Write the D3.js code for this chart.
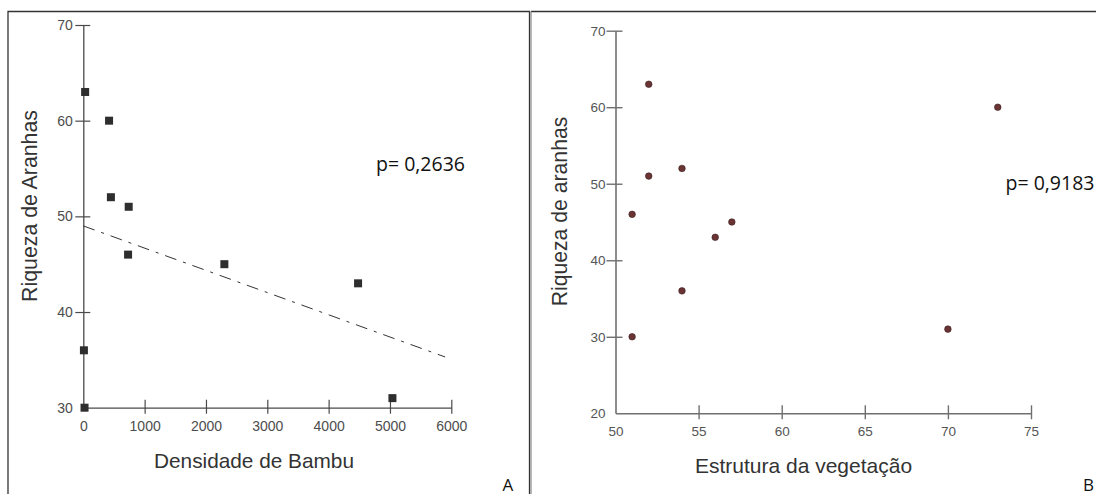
<!DOCTYPE html>
<html>
<head>
<meta charset="utf-8">
<script src="https://cdn.jsdelivr.net/npm/d3@7"></script>
<style>
  html, body { margin: 0; padding: 0; background: #fff; }
  svg { display: block; }
</style>
</head>
<body>
<svg id="chart" width="1096" height="494"></svg>
<script>
// ---------- Data ----------
// Panel A: Densidade de Bambu vs Riqueza de Aranhas
const densidadeBambu = [30, 420, 450, 740, 730, 2300, 10, 20, 4480, 5040];
const riquezaA       = [63, 60, 52, 51, 46, 45, 36, 30, 43, 31];
// dashed trend line end points (x, y values)
const trendX = [0, 5900];
const trendY = [49.0, 35.3];
const xTicksA = [0, 1000, 2000, 3000, 4000, 5000, 6000];
const yTicksA = [30, 40, 50, 60, 70];
const pTextA = "p= 0,2636";

// Panel B: Estrutura da vegetação vs Riqueza de aranhas
const estruturaVeg = [52, 51, 52, 54, 56, 57, 54, 51, 73, 70];
const riquezaB     = [63, 46, 51, 52, 43, 45, 36, 30, 60, 31];
const xTicksB = [50, 55, 60, 65, 70, 75];
const yTicksB = [20, 30, 40, 50, 60, 70];
const pTextB = "p= 0,9183";

// ---------- Drawing ----------
const svg = d3.select("#chart");
const sansFont = "'Liberation Sans', Arial, sans-serif";
const calFont = "'Open Sans', 'Liberation Sans', sans-serif";

// panel borders
svg.append("path").attr("d", "M8,494V11.5H529.5V494")
  .attr("fill", "none").attr("stroke", "#333").attr("stroke-width", 1.3);
svg.append("path").attr("d", "M531,11.5H1096")
  .attr("fill", "none").attr("stroke", "#333").attr("stroke-width", 1.3);
svg.append("path").attr("d", "M531,11.5V494")
  .attr("fill", "none").attr("stroke", "#888").attr("stroke-width", 1.2);

function drawAxes(g, x, y, xTicks, yTicks, opts) {
  const xAxis = d3.axisBottom(x).tickValues(xTicks).tickFormat(d3.format("d"))
    .tickSizeInner(6).tickSizeOuter(0).tickPadding(7);
  const yAxis = d3.axisLeft(y).tickValues(yTicks).tickFormat(d3.format("d"))
    .tickSizeInner(opts.yTickLeft).tickSizeOuter(0).tickPadding(opts.yPad);

  const gx = g.append("g").attr("transform", `translate(0,${y.range()[0]})`).call(xAxis);
  const gy = g.append("g").attr("transform", `translate(${x.range()[0]},0)`).call(yAxis);

  [gx, gy].forEach(a => {
    a.select(".domain").attr("stroke", opts.axisColor).attr("stroke-width", opts.axisWidth);
    a.selectAll(".tick line").attr("stroke", opts.axisColor).attr("stroke-width", opts.tickWidth);
    a.selectAll(".tick text").attr("fill", opts.labelColor)
      .style("font-family", sansFont).style("font-size", opts.labelSize + "px");
  });
  // ticks cross the axis
  gx.selectAll(".tick line").attr("y1", -8);
  gy.selectAll(".tick line").attr("x1", 7);
  // no tick mark at the origin
  gx.selectAll(".tick").filter(d => d === xTicks[0]).select("line").remove();
  gy.selectAll(".tick").filter(d => d === yTicks[0]).select("line").remove();
}

// ----- Panel A -----
const xA = d3.scaleLinear().domain([0, 6000]).range([83.3, 451.3]);
const yA = d3.scaleLinear().domain([30, 70]).range([407.7, 25]);
const gA = svg.append("g");
drawAxes(gA, xA, yA, xTicksA, yTicksA, {
  axisColor: "#4a4a4a", axisWidth: 1.3, tickWidth: 1.2, labelColor: "#4d4d4d",
  labelSize: 14, yTickLeft: 8, yPad: 2.5
});

// trend line
gA.append("path")
  .datum(trendX.map((v, i) => [v, trendY[i]]))
  .attr("d", d3.line().x(d => xA(d[0])).y(d => yA(d[1])))
  .attr("fill", "none").attr("stroke", "#333").attr("stroke-width", 1)
  .attr("stroke-dasharray", "12,7,3,7");

// square markers
const sq = 8;
gA.selectAll("rect.pt").data(densidadeBambu.map((v, i) => [v, riquezaA[i]]))
  .join("rect").attr("class", "pt")
  .attr("x", d => xA(d[0]) - sq / 2).attr("y", d => yA(d[1]) - sq / 2)
  .attr("width", sq).attr("height", sq).attr("fill", "#2e2e2e");

gA.append("text").text("Densidade de Bambu")
  .attr("x", 254).attr("y", 468.3).attr("text-anchor", "middle")
  .style("font-family", sansFont).style("font-size", "20.8px").attr("fill", "#333");
gA.append("text").text("Riqueza de Aranhas")
  .attr("transform", "translate(36.5,206) rotate(-90)").attr("text-anchor", "middle")
  .style("font-family", sansFont).style("font-size", "21.3px").attr("fill", "#333");
gA.append("text").text(pTextA)
  .attr("x", 376).attr("y", 170.7)
  .style("font-family", calFont).style("font-size", "19.5px").attr("fill", "#111");
gA.append("text").text("A")
  .attr("x", 502.5).attr("y", 490.5)
  .style("font-family", calFont).style("font-size", "17px").attr("fill", "#111");

// ----- Panel B -----
const xB = d3.scaleLinear().domain([50, 75]).range([615.5, 1031]);
const yB = d3.scaleLinear().domain([20, 70]).range([413.3, 30.7]);
const gB = svg.append("g");
drawAxes(gB, xB, yB, xTicksB, yTicksB, {
  axisColor: "#707070", axisWidth: 1.6, tickWidth: 1.4, labelColor: "#555",
  labelSize: 13.5, yTickLeft: 9, yPad: 1
});

gB.selectAll("path.pt").data(estruturaVeg.map((v, i) => [v, riquezaB[i]]))
  .join("path").attr("class", "pt")
  .attr("transform", d => `translate(${xB(d[0])},${yB(d[1])})`)
  .attr("d", d3.symbol().type(d3.symbolCircle).size(34))
  .attr("fill", "#6a3434").attr("stroke", "#3a1e1e").attr("stroke-width", 0.6);

gB.append("text").text("Estrutura da vegetação")
  .attr("x", 803.5).attr("y", 473.3).attr("text-anchor", "middle")
  .style("font-family", sansFont).style("font-size", "21px").attr("fill", "#333");
gB.append("text").text("Riqueza de aranhas")
  .attr("transform", "translate(566.5,211.5) rotate(-90)").attr("text-anchor", "middle")
  .style("font-family", sansFont).style("font-size", "21.2px").attr("fill", "#333");
gB.append("text").text(pTextB)
  .attr("x", 1005.5).attr("y", 190)
  .style("font-family", calFont).style("font-size", "19.5px").attr("fill", "#111");
gB.append("text").text("B")
  .attr("x", 1083).attr("y", 490.5)
  .style("font-family", calFont).style("font-size", "17px").attr("fill", "#111");
</script>
</body>
</html>
